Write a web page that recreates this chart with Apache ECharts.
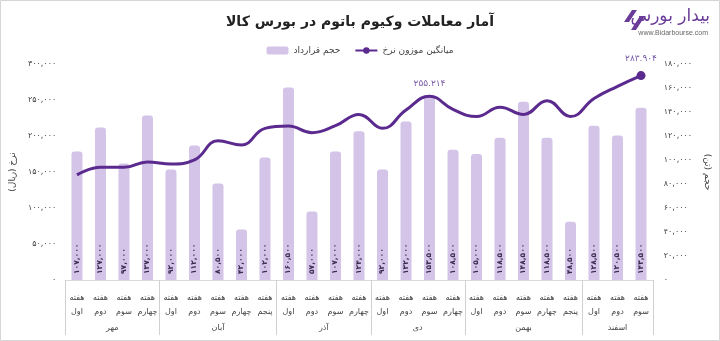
<!DOCTYPE html>
<html><head><meta charset="utf-8">
<script src="https://cdn.jsdelivr.net/npm/echarts@6/dist/echarts.min.js"></script>
<style>html,body{margin:0;padding:0;background:#fff}#c{width:720px;height:341px}</style>
</head><body><div id="c"></div>
<script>
// ---- data ----
var weeks = ['اول','دوم','سوم','چهارم','اول','دوم','سوم','چهارم','پنجم','اول','دوم','سوم','چهارم','اول','دوم','سوم','چهارم','اول','دوم','سوم','چهارم','پنجم','اول','دوم','سوم'];
var months = ['مهر','آبان','آذر','دی','بهمن','اسفند'];
var monthWeekCounts = [4,5,4,4,5,3];
var volume = [107000,127000,97000,137000,92000,112000,80500,42000,102000,160500,57000,107000,124000,92000,132000,153500,108500,105000,118500,148500,118500,48500,128500,120500,143500];
var price = [146000,156500,156500,164000,161000,166700,193500,187500,210600,213900,204600,214300,230000,210600,236000,255214,237000,227000,240000,230000,249000,227000,252000,269000,283904];
var priceLabelIdx = [15,24];
var leftTicks = {min:0,max:300000,interval:50000};
var rightTicks = {min:0,max:180000,interval:20000};

function fa(n, sep){
  var s = Math.round(n).toString().replace(/\B(?=(\d{3})+(?!\d))/g, sep || ',');
  return s.replace(/\d/g, function(d){return '۰۱۲۳۴۵۶۷۸۹'[d];});
}
var bounds=[0], centers=[];
monthWeekCounts.forEach(function(c,i){var b=bounds[i]; centers.push(b+c/2); bounds.push(b+c);});
var total = bounds[bounds.length-1];

var FONT = 'DejaVu Sans';
var chart = echarts.init(document.getElementById('c'));
chart.setOption({
  animation:false,
  textStyle:{fontFamily:FONT},
  title:{text:'آمار معاملات وکیوم باتوم در بورس کالا',left:'center',top:10,
    textStyle:{fontSize:14,fontWeight:'bold',color:'#222',fontFamily:FONT}},
  legend:{top:41,left:'center',itemWidth:22,itemHeight:8,itemGap:14,
    textStyle:{fontSize:9,color:'#444',fontFamily:FONT},
    data:['حجم قرارداد','میانگین موزون نرخ']},
  grid:{left:64,right:66,top:64,bottom:61},
  xAxis:[
    {type:'category',data:weeks.map(function(w){return 'هفته\n'+w;}),
     axisLine:{show:true,lineStyle:{color:'#d9d9d9'}},axisTick:{show:false},
     axisLabel:{interval:0,fontSize:8,color:'#444',margin:11,lineHeight:14,fontFamily:FONT}},
    {type:'value',min:0,max:total,position:'bottom',
     axisLine:{show:false},splitLine:{show:false},
     axisTick:{show:true,customValues:bounds,length:55,lineStyle:{color:'#d0d0d0'}},
     axisLabel:{show:true,customValues:centers,margin:44,fontSize:8,color:'#444',fontFamily:FONT,
       formatter:function(v){var i=centers.indexOf(v);return i>=0?months[i]:'';}}}
  ],
  yAxis:[
    {type:'value',min:leftTicks.min,max:leftTicks.max,interval:leftTicks.interval,
     name:'نرخ (ریال)',nameLocation:'middle',nameRotate:90,nameGap:42,
     nameTextStyle:{fontSize:9,color:'#444',fontFamily:FONT},
     axisLine:{show:false},axisTick:{show:false},splitLine:{show:false},
     axisLabel:{fontSize:8,color:'#444',margin:9,formatter:function(v){return fa(v);}}},
    {type:'value',min:rightTicks.min,max:rightTicks.max,interval:rightTicks.interval,
     name:'حجم (تن)',nameLocation:'middle',nameRotate:-90,nameGap:44,
     nameTextStyle:{fontSize:9,color:'#444',fontFamily:FONT},
     axisLine:{show:false},axisTick:{show:false},splitLine:{show:false},
     axisLabel:{fontSize:8,color:'#444',margin:11,formatter:function(v){return fa(v);}}}
  ],
  series:[
    {name:'حجم قرارداد',type:'bar',xAxisIndex:0,yAxisIndex:1,data:volume,barWidth:11,
     itemStyle:{color:'#d3c4e8',borderRadius:[3,3,0,0]},
     label:{show:true,position:'insideBottom',rotate:90,align:'left',verticalAlign:'middle',distance:6,
       fontSize:7.5,fontWeight:'bold',color:'#3d2b52',fontFamily:FONT,
       formatter:function(p){return fa(p.value);}}},
    {name:'میانگین موزون نرخ',type:'line',xAxisIndex:0,yAxisIndex:0,smooth:0.45,
     symbol:'circle',symbolSize:0,showAllSymbol:true,
     lineStyle:{color:'#5b2a8e',width:3},itemStyle:{color:'#5b2a8e'},
     data:price.map(function(v,i){
       var d={value:v};
       if(priceLabelIdx.indexOf(i)>=0){
         d.label={show:true,position:'top',distance:8,fontSize:9,color:'#7a5aa8',fontFamily:FONT,
           formatter:function(p){return fa(p.value,'.');}};
       }
       if(i===price.length-1){d.symbolSize=9;}
       return d;
     })}
  ],
  graphic:[
    {type:'rect',shape:{x:0.5,y:0.5,width:719,height:340},style:{fill:'none',stroke:'#d6d6d6',lineWidth:1},silent:true},
    {type:'text',right:10,top:8,style:{text:'بیدار بورس',fontSize:17,fill:'#6a3b99',fontFamily:FONT}},
    {type:'text',right:12,top:30,style:{text:'www.Bidarbourse.com',fontSize:7,fill:'#666',fontFamily:'Liberation Sans'}},
    {type:'polygon',shape:{points:[[624,22],[632,10],[637,10],[629,22]]},style:{fill:'#6a3b99'}},
    {type:'polygon',shape:{points:[[631,30],[640,16],[645,16],[636,30]]},style:{fill:'#6a3b99'}}
  ]
});
</script></body></html>
